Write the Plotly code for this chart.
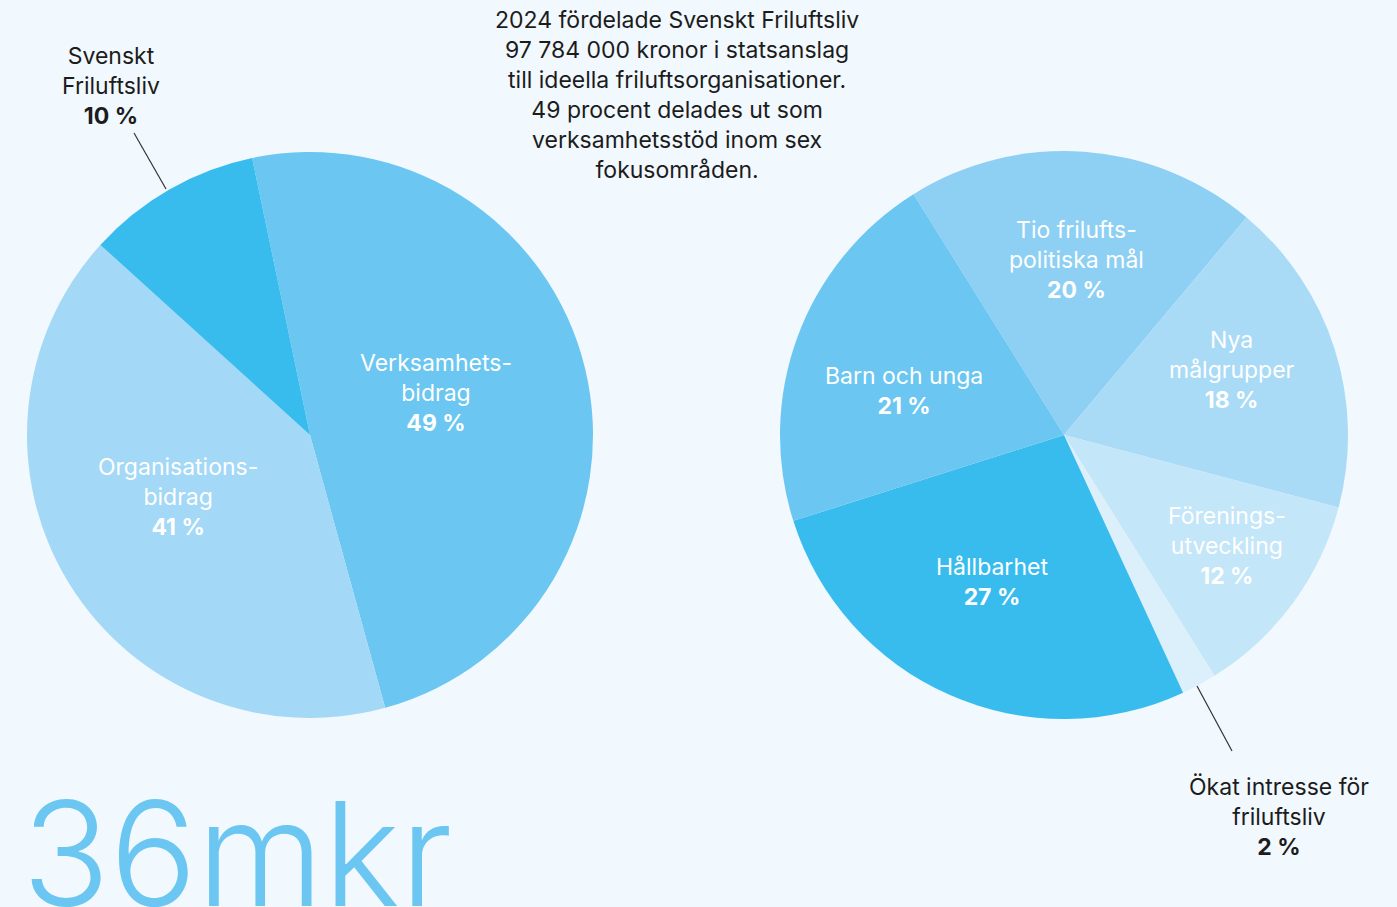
import plotly.graph_objects as go

W, H = 1397, 907

# ---- data ----
left_labels = ["Verksamhetsbidrag", "Organisationsbidrag", "Svenskt Friluftsliv"]
left_values = [49, 41, 10]
left_colors = ["#6bc6f1", "#a3d8f6", "#38bcee"]

right_labels = ["Tio friluftspolitiska mål", "Nya målgrupper", "Föreningsutveckling",
                "Ökat intresse för friluftsliv", "Hållbarhet", "Barn och unga"]
right_values = [20, 18, 12, 2, 27, 21]
right_colors = ["#8dd0f3", "#a9dbf7", "#c4e6f9", "#dcf0fc", "#38bcee", "#6bc6f1"]

title_text = ("2024 fördelade Svenskt Friluftsliv<br>97 784 000 kronor i statsanslag<br>"
              "till ideella friluftsorganisationer.<br>49 procent delades ut som<br>"
              "verksamhetsstöd inom sex<br>fokusområden.")
big_number = "36mkr"

BG = "#f1f8fe"
DARK = "#1c1c1c"
FONT = "Inter"
FS = 23


def px(x):
    return x / W


def py(y):
    return 1 - y / H


def domain(cx, cy, r):
    return dict(x=[px(cx - r), px(cx + r)], y=[py(cy + r), py(cy - r)])


fig = go.Figure()
fig.add_trace(go.Pie(labels=left_labels, values=left_values, sort=False,
                     direction="clockwise", rotation=-11.8,
                     marker=dict(colors=left_colors, line=dict(width=0)),
                     textinfo="none", domain=domain(310, 435, 283),
                     showlegend=False, hoverinfo="label+percent"))
fig.add_trace(go.Pie(labels=right_labels, values=right_values, sort=False,
                     direction="clockwise", rotation=-32,
                     marker=dict(colors=right_colors, line=dict(width=0)),
                     textinfo="none", domain=domain(1064, 435, 284),
                     showlegend=False, hoverinfo="label+percent"))

anns = []


def label(x, y, text, color, size=FS):
    anns.append(dict(x=px(x), y=py(y), xref="paper", yref="paper", text=text,
                     showarrow=False, xanchor="center", yanchor="middle",
                     align="center", font=dict(family=FONT, size=size, color=color)))


# inside labels (white)
label(436, 393, "Verksamhets-<br>bidrag<br><b>%d %%</b>" % left_values[0], "white")
label(178, 497, "Organisations-<br>bidrag<br><b>%d %%</b>" % left_values[1], "white")
label(1076, 260, "Tio frilufts-<br>politiska mål<br><b>%d %%</b>" % right_values[0], "white")
label(1232, 370, "Nya<br>målgrupper<br><b>%d %%</b>" % right_values[1], "white")
label(1227, 546, "Förenings-<br>utveckling<br><b>%d %%</b>" % right_values[2], "white")
label(992, 582, "Hållbarhet<br><b>%d %%</b>" % right_values[4], "white")
label(904, 391, "Barn och unga<br><b>%d %%</b>" % right_values[5], "white")

# outside labels (dark)
label(111, 86, "Svenskt<br>Friluftsliv<br><b>%d %%</b>" % left_values[2], DARK)
label(1279, 817, "Ökat intresse för<br>friluftsliv<br><b>%d %%</b>" % right_values[3], DARK)

# title block
anns.append(dict(x=px(677), y=py(94.5), xref="paper", yref="paper", text=title_text,
                 showarrow=False, xanchor="center", yanchor="middle", align="center",
                 font=dict(family=FONT, size=FS, color=DARK)))

# big number
anns.append(dict(x=px(20), y=py(853), xref="paper", yref="paper", text=big_number,
                 showarrow=False, xanchor="left", yanchor="middle", align="left",
                 font=dict(family=FONT, size=145, color="#6bc6f1", weight=300)))

shapes = [
    dict(type="line", xref="paper", yref="paper", x0=px(134), y0=py(133), x1=px(166), y1=py(189),
         line=dict(color="#333333", width=1.2)),
    dict(type="line", xref="paper", yref="paper", x0=px(1197), y0=py(686), x1=px(1232), y1=py(751),
         line=dict(color="#333333", width=1.2)),
]

fig.update_layout(width=W, height=H, margin=dict(l=0, r=0, t=0, b=0),
                  paper_bgcolor=BG, plot_bgcolor=BG, annotations=anns, shapes=shapes,
                  font=dict(family=FONT))

fig.write_html("out.html", config={"displayModeBar": False},
               post_script="document.body.style.margin='0';document.body.style.overflow='hidden';")
